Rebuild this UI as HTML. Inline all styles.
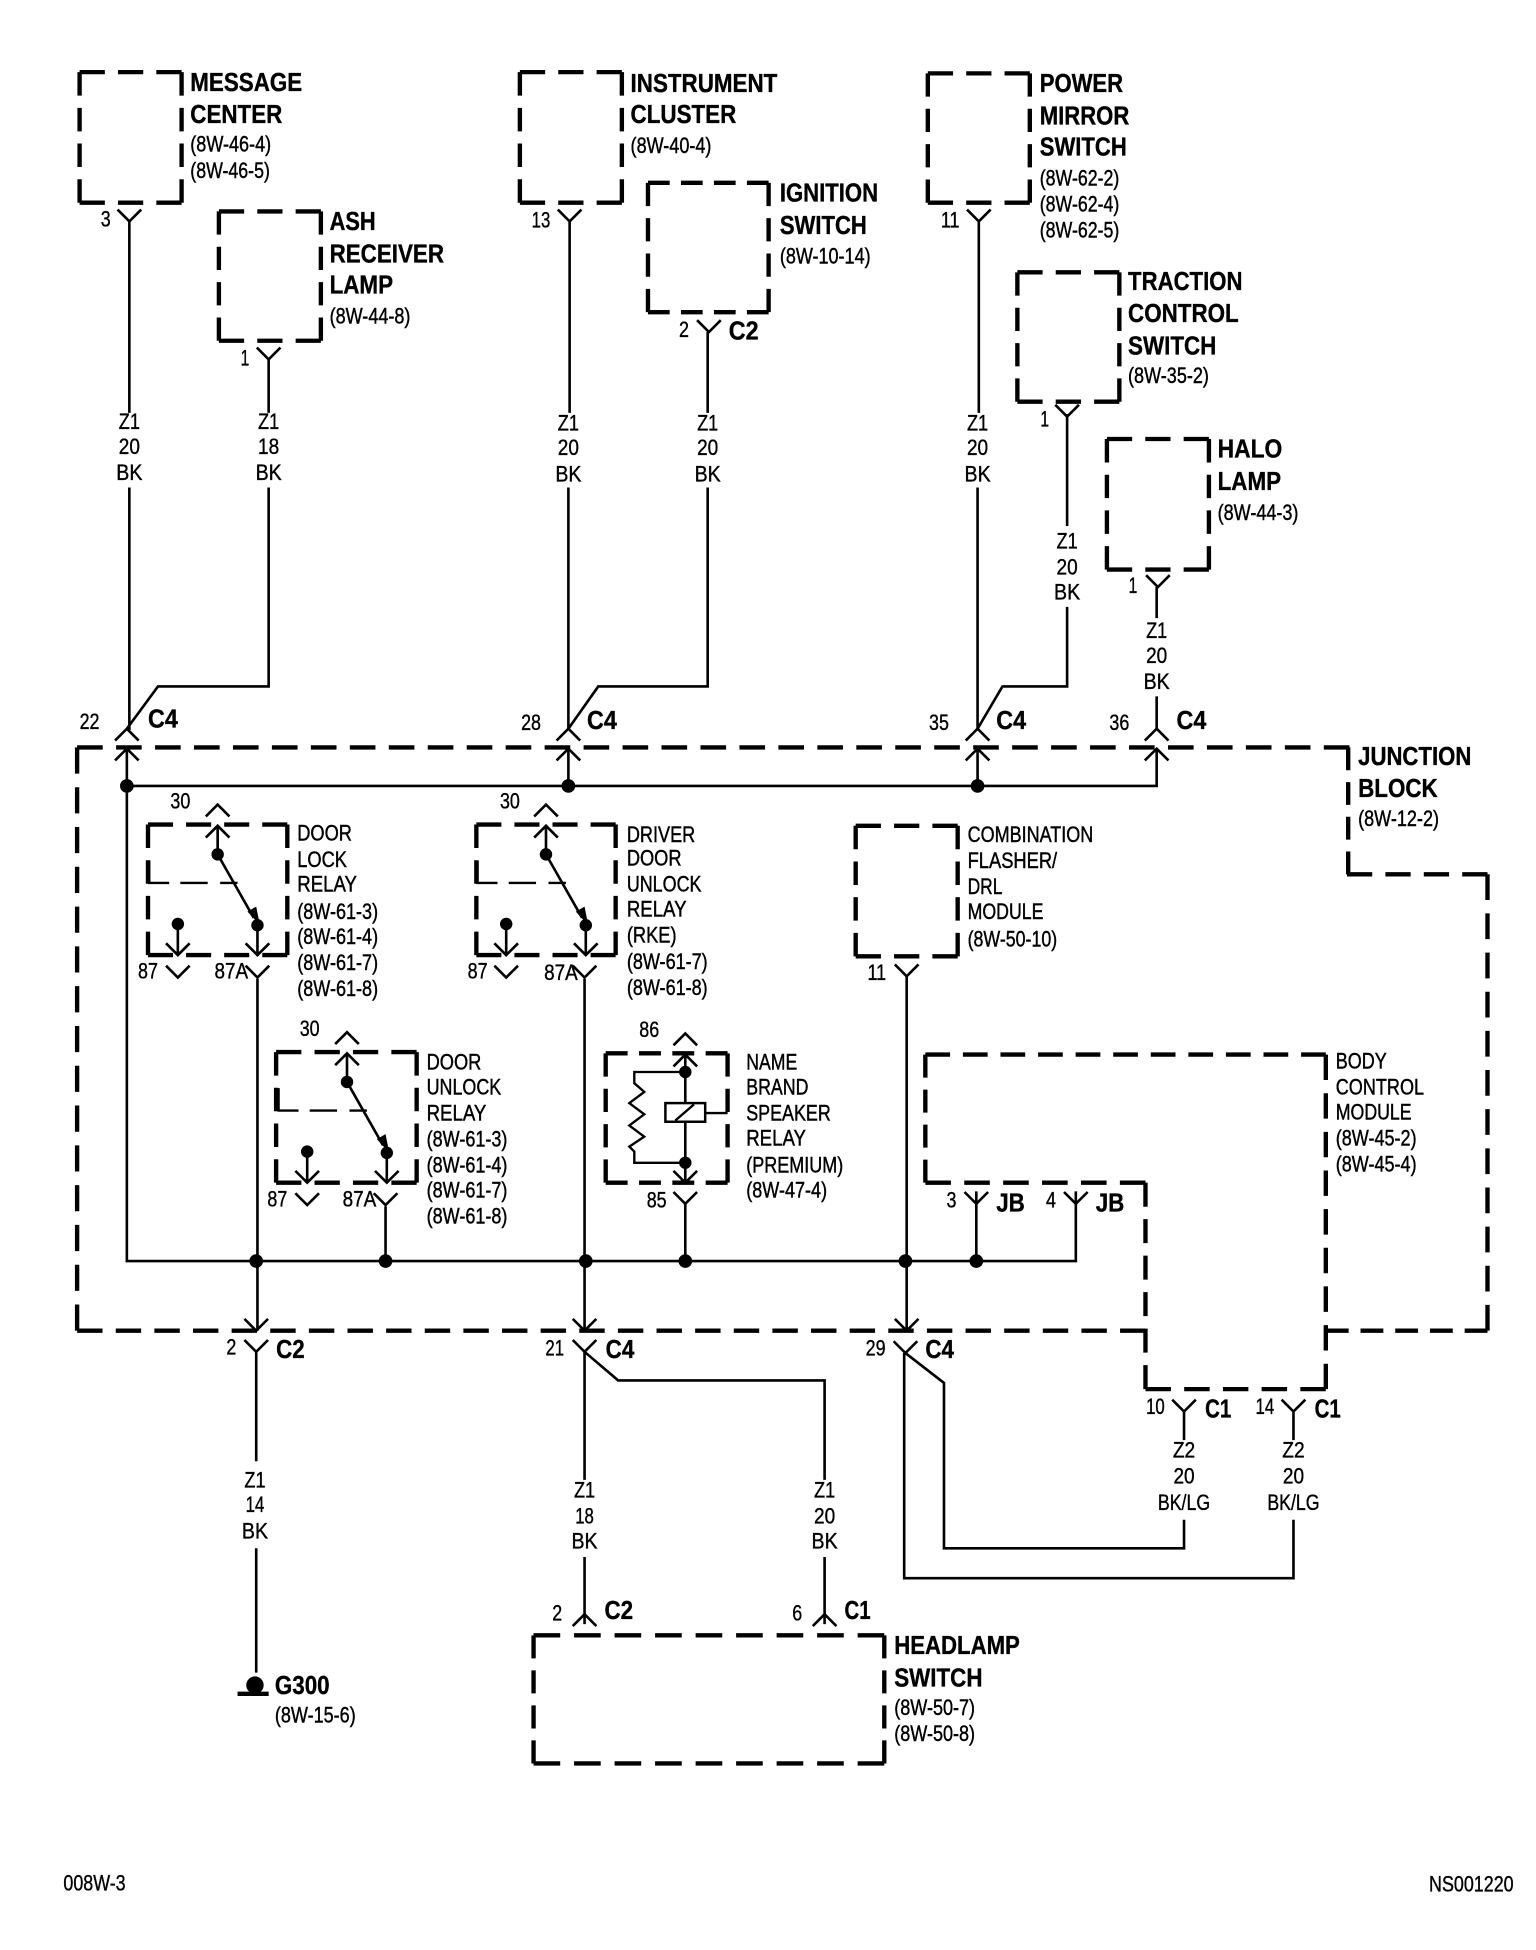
<!DOCTYPE html>
<html><head><meta charset="utf-8"><style>
html,body{margin:0;padding:0;background:#fff}
svg{display:block}
.d{fill:none;stroke:#000;stroke-width:3.5;stroke-dasharray:25 13}
.w{fill:none;stroke:#000;stroke-width:2.1}
.t{fill:none;stroke:#000;stroke-width:1.9}
text{font-family:"Liberation Sans",sans-serif;fill:#000}
.b{font-weight:bold;font-size:21px;stroke:#000;stroke-width:.3;transform:translate(0,-1px)}
.r{font-size:18px;stroke:#000;stroke-width:.35}
.n{font-size:17.5px;text-anchor:middle;stroke:#000;stroke-width:.3}
</style></head><body>
<svg width="1536" height="1950" viewBox="0 0 1235 1568" preserveAspectRatio="none" xmlns="http://www.w3.org/2000/svg">
<defs>
<path id="Y" class="w" d="M-9.500 -9.500L0 0L9.500 -9.500"/>
<path id="A" class="w" d="M-9.500 9.500L0 0L9.500 9.500"/>
</defs>
<rect width="1235" height="1568" fill="#fff"/>

<!-- boxes -->
<g>
<path class="d" pathLength="101" d="M64 58H146"/><path class="d" pathLength="101" d="M64 163H146"/><path class="d" pathLength="139" d="M64 58V163"/><path class="d" pathLength="139" d="M146 58V163"/>
<path class="d" pathLength="101" d="M176 170H258"/><path class="d" pathLength="101" d="M176 274H258"/><path class="d" pathLength="139" d="M176 170V274"/><path class="d" pathLength="139" d="M258 170V274"/>
<path class="d" pathLength="101" d="M418 58H500"/><path class="d" pathLength="101" d="M418 163H500"/><path class="d" pathLength="139" d="M418 58V163"/><path class="d" pathLength="139" d="M500 58V163"/>
<path class="d" pathLength="139" d="M521 147H618"/><path class="d" pathLength="139" d="M521 251H618"/><path class="d" pathLength="139" d="M521 147V251"/><path class="d" pathLength="139" d="M618 147V251"/>
<path class="d" pathLength="101" d="M746 59H828"/><path class="d" pathLength="101" d="M746 163H828"/><path class="d" pathLength="139" d="M746 59V163"/><path class="d" pathLength="139" d="M828 59V163"/>
<path class="d" pathLength="101" d="M818 219H900"/><path class="d" pathLength="101" d="M818 323H900"/><path class="d" pathLength="139" d="M818 219V323"/><path class="d" pathLength="139" d="M900 219V323"/>
<path class="d" pathLength="101" d="M890 353H972"/><path class="d" pathLength="101" d="M890 458H972"/><path class="d" pathLength="139" d="M890 353V458"/><path class="d" pathLength="139" d="M972 353V458"/>
<path class="d" pathLength="329" d="M429 1315H711"/><path class="d" pathLength="329" d="M429 1418H711"/><path class="d" pathLength="139" d="M429 1315V1418"/><path class="d" pathLength="139" d="M711 1315V1418"/>
</g>
<g>
<path class="d" pathLength="139" d="M119 663H231"/><path class="d" pathLength="139" d="M119 768H231"/><path class="d" pathLength="139" d="M119 663V768"/><path class="d" pathLength="139" d="M231 663V768"/>
<path class="d" pathLength="139" d="M383 663H495"/><path class="d" pathLength="139" d="M383 768H495"/><path class="d" pathLength="139" d="M383 663V768"/><path class="d" pathLength="139" d="M495 663V768"/>
<path class="d" pathLength="139" d="M222 846H335"/><path class="d" pathLength="139" d="M222 951H335"/><path class="d" pathLength="139" d="M222 846V951"/><path class="d" pathLength="139" d="M335 846V951"/>
<path class="d" pathLength="101" d="M688 664H770"/><path class="d" pathLength="101" d="M688 769H770"/><path class="d" pathLength="139" d="M688 664V769"/><path class="d" pathLength="139" d="M770 664V769"/>
<path class="d" pathLength="139" d="M487 847H585"/><path class="d" pathLength="139" d="M487 951H585"/><path class="d" pathLength="139" d="M487 847V951"/><path class="d" pathLength="139" d="M585 847V951"/>
</g>
<!-- body control module -->
<path class="d" pathLength="405" d="M744 848H1066"/>
<path class="d" pathLength="139" d="M744 848V951"/>
<path class="d" pathLength="215" d="M744 951H921"/>
<path class="d" pathLength="215" d="M921 951V1117"/>
<path class="d" pathLength="177" d="M921 1117H1066"/>
<path class="d" pathLength="329" d="M1066 848V1117"/>
<!-- junction block -->
<path class="d" pathLength="1241" d="M62 601H1085"/>
<path class="d" pathLength="139" d="M1084 601V703"/>
<path class="d" pathLength="139" d="M1083 703H1196"/>
<path class="d" pathLength="443" d="M1196 703V1070"/>
<path class="d" pathLength="177" d="M1066 1070H1196"/>
<path class="d" pathLength="1051" d="M62 1070H921"/>
<path class="d" pathLength="557" d="M62 601V1070"/>

<!-- top wires -->
<path class="w" d="M104 178V332M104 392V587M216 289V332M216 392V552H127L102 586"/>
<path class="w" d="M458 178V332M457 392V587M569 267V332M569 392V552H481L457 586"/>
<path class="w" d="M787 178V332M786 392V587M858 333V423M858 488V552H806L786 586"/>
<path class="w" d="M930 472V497M930 560V587"/>
<use href="#Y" x="104" y="178"/><use href="#Y" x="216" y="289"/><use href="#Y" x="458" y="178"/><use href="#Y" x="570" y="267"/><use href="#Y" x="787" y="178"/><use href="#Y" x="858" y="335"/><use href="#Y" x="931" y="472"/>
<use href="#A" x="102" y="586"/><use href="#A" x="457" y="586"/><use href="#A" x="786" y="586"/><use href="#A" x="930" y="586"/>
<use href="#A" x="102" y="602"/><use href="#A" x="457" y="602"/><use href="#A" x="786" y="602"/><use href="#A" x="930" y="602"/>
<!-- buses -->
<path class="w" d="M102 602V1014H865V958M102 632H930V602M457 602V632M786 602V632"/>
<g fill="#000"><circle cx="102" cy="632" r="5.500"/><circle cx="457" cy="632" r="5.500"/><circle cx="786" cy="632" r="5.500"/>
<circle cx="206" cy="1014" r="5.500"/><circle cx="310" cy="1014" r="5.500"/><circle cx="471" cy="1014" r="5.500"/><circle cx="551" cy="1014" r="5.500"/><circle cx="728" cy="1014" r="5.500"/><circle cx="785" cy="1014" r="5.500"/></g>
<!-- verticals -->
<path class="w" d="M207 787V1070M470 787V1070M729 785V1070M310 970V1014M551 968V1014M785 958V1014"/>
<use href="#Y" x="207" y="786"/><use href="#Y" x="470" y="786"/><use href="#Y" x="729" y="785"/><use href="#Y" x="310" y="969"/><use href="#Y" x="551" y="968"/><use href="#Y" x="785" y="968"/><use href="#Y" x="865" y="968"/>
<use href="#Y" x="206" y="1070"/><use href="#Y" x="470" y="1070"/><use href="#Y" x="729" y="1070"/>
<use href="#Y" x="206" y="1087"/><use href="#Y" x="470" y="1087"/><use href="#Y" x="728" y="1088"/>
<!-- lower wires -->
<path class="w" d="M206 1087V1175M206 1245V1345"/>
<path class="w" d="M470 1087V1190M470 1252V1306M470 1087L497 1110H663V1190M663 1252V1306"/>
<path class="w" d="M727 1088V1269H1040V1222M728 1088L759 1112V1245H952V1222"/>
<path class="w" d="M952 1135V1158M1040 1135V1158"/>
<use href="#Y" x="952" y="1135"/><use href="#Y" x="1040" y="1135"/>
<use href="#A" x="470" y="1298"/><use href="#A" x="663" y="1298"/>
<circle cx="205" cy="1355" r="7" fill="#000"/><path d="M191 1362H216" stroke="#000" stroke-width="3.500"/>

<!-- door lock relay -->
<g id="rl">
<use href="#A" x="175" y="647"/><use href="#A" x="175" y="664"/>
<path class="w" d="M175 664V687M175 687L204 738"/>
<path d="M209 744L199 733L206 729Z" fill="#000"/>
<circle cx="175" cy="687" r="5" fill="#000"/><circle cx="207" cy="744" r="5" fill="#000"/>
<circle cx="143" cy="743" r="5" fill="#000"/>
<path class="w" d="M143 743V768M207 744V768"/>
<use href="#Y" x="143" y="768"/><use href="#Y" x="207" y="768"/><use href="#Y" x="143" y="786"/>
<path class="t" d="M120 692V710H136M145 710H167M177 710H191"/>
</g>
<use href="#rl" x="264" y="0"/>
<use href="#rl" x="104" y="183"/>

<!-- name brand relay -->
<use href="#A" x="551" y="831"/><use href="#A" x="551" y="848"/>
<path class="w" d="M551 848V887M551 902V951"/>
<circle cx="551" cy="862" r="5" fill="#000"/><circle cx="551" cy="935" r="5" fill="#000"/>
<path class="t" d="M551 862H510V871L518 878L506 887L518 896L506 905L518 914L506 922L510 926V935H551"/>
<rect x="535" y="887" width="32" height="15" fill="none" stroke="#000" stroke-width="2"/>
<path class="t" d="M543 901L558 888M567 895H585"/>
<use href="#Y" x="551" y="951"/>

<!-- bold labels -->
<text class="b" x="153" y="74" textLength="90" lengthAdjust="spacingAndGlyphs">MESSAGE</text>
<text class="b" x="153" y="100" textLength="74" lengthAdjust="spacingAndGlyphs">CENTER</text>
<text class="b" x="265" y="186" textLength="37" lengthAdjust="spacingAndGlyphs">ASH</text>
<text class="b" x="265" y="212" textLength="92" lengthAdjust="spacingAndGlyphs">RECEIVER</text>
<text class="b" x="265" y="237" textLength="51" lengthAdjust="spacingAndGlyphs">LAMP</text>
<text class="b" x="507" y="75" textLength="118" lengthAdjust="spacingAndGlyphs">INSTRUMENT</text>
<text class="b" x="507" y="100" textLength="85" lengthAdjust="spacingAndGlyphs">CLUSTER</text>
<text class="b" x="627" y="163" textLength="79" lengthAdjust="spacingAndGlyphs">IGNITION</text>
<text class="b" x="627" y="189" textLength="70" lengthAdjust="spacingAndGlyphs">SWITCH</text>
<text class="b" x="836" y="75" textLength="67" lengthAdjust="spacingAndGlyphs">POWER</text>
<text class="b" x="836" y="101" textLength="72" lengthAdjust="spacingAndGlyphs">MIRROR</text>
<text class="b" x="836" y="126" textLength="70" lengthAdjust="spacingAndGlyphs">SWITCH</text>
<text class="b" x="907" y="234" textLength="92" lengthAdjust="spacingAndGlyphs">TRACTION</text>
<text class="b" x="907" y="260" textLength="89" lengthAdjust="spacingAndGlyphs">CONTROL</text>
<text class="b" x="907" y="286" textLength="71" lengthAdjust="spacingAndGlyphs">SWITCH</text>
<text class="b" x="979" y="369" textLength="52" lengthAdjust="spacingAndGlyphs">HALO</text>
<text class="b" x="979" y="395" textLength="51" lengthAdjust="spacingAndGlyphs">LAMP</text>
<text class="b" x="1092" y="616" textLength="91" lengthAdjust="spacingAndGlyphs">JUNCTION</text>
<text class="b" x="1092" y="642" textLength="64" lengthAdjust="spacingAndGlyphs">BLOCK</text>
<text class="b" x="719" y="1331" textLength="101" lengthAdjust="spacingAndGlyphs">HEADLAMP</text>
<text class="b" x="719" y="1357" textLength="71" lengthAdjust="spacingAndGlyphs">SWITCH</text>
<text class="b" x="221" y="1363" textLength="44" lengthAdjust="spacingAndGlyphs">G300</text>
<text class="b" x="119" y="586" textLength="24" lengthAdjust="spacingAndGlyphs">C4</text>
<text class="b" x="472" y="587" textLength="24" lengthAdjust="spacingAndGlyphs">C4</text>
<text class="b" x="801" y="587" textLength="24" lengthAdjust="spacingAndGlyphs">C4</text>
<text class="b" x="946" y="587" textLength="24" lengthAdjust="spacingAndGlyphs">C4</text>
<text class="b" x="586" y="274" textLength="24" lengthAdjust="spacingAndGlyphs">C2</text>
<text class="b" x="222" y="1093" textLength="23" lengthAdjust="spacingAndGlyphs">C2</text>
<text class="b" x="487" y="1093" textLength="23" lengthAdjust="spacingAndGlyphs">C4</text>
<text class="b" x="744" y="1093" textLength="23" lengthAdjust="spacingAndGlyphs">C4</text>
<text class="b" x="801" y="975" textLength="23" lengthAdjust="spacingAndGlyphs">JB</text>
<text class="b" x="881" y="975" textLength="23" lengthAdjust="spacingAndGlyphs">JB</text>
<text class="b" x="969" y="1141" textLength="21" lengthAdjust="spacingAndGlyphs">C1</text>
<text class="b" x="1057" y="1141" textLength="21" lengthAdjust="spacingAndGlyphs">C1</text>
<text class="b" x="486" y="1303" textLength="23" lengthAdjust="spacingAndGlyphs">C2</text>
<text class="b" x="679" y="1303" textLength="21" lengthAdjust="spacingAndGlyphs">C1</text>

<!-- regular labels -->
<text class="r" x="153" y="122" textLength="65" lengthAdjust="spacingAndGlyphs">(8W-46-4)</text>
<text class="r" x="153" y="143" textLength="64" lengthAdjust="spacingAndGlyphs">(8W-46-5)</text>
<text class="r" x="265" y="260" textLength="65" lengthAdjust="spacingAndGlyphs">(8W-44-8)</text>
<text class="r" x="507" y="123" textLength="65" lengthAdjust="spacingAndGlyphs">(8W-40-4)</text>
<text class="r" x="627" y="212" textLength="73" lengthAdjust="spacingAndGlyphs">(8W-10-14)</text>
<text class="r" x="836" y="149" textLength="64" lengthAdjust="spacingAndGlyphs">(8W-62-2)</text>
<text class="r" x="836" y="170" textLength="64" lengthAdjust="spacingAndGlyphs">(8W-62-4)</text>
<text class="r" x="836" y="191" textLength="64" lengthAdjust="spacingAndGlyphs">(8W-62-5)</text>
<text class="r" x="907" y="308" textLength="65" lengthAdjust="spacingAndGlyphs">(8W-35-2)</text>
<text class="r" x="979" y="418" textLength="65" lengthAdjust="spacingAndGlyphs">(8W-44-3)</text>
<text class="r" x="1092" y="664" textLength="65" lengthAdjust="spacingAndGlyphs">(8W-12-2)</text>
<text class="r" x="719" y="1379" textLength="65" lengthAdjust="spacingAndGlyphs">(8W-50-7)</text>
<text class="r" x="719" y="1400" textLength="65" lengthAdjust="spacingAndGlyphs">(8W-50-8)</text>
<text class="r" x="221" y="1385" textLength="65" lengthAdjust="spacingAndGlyphs">(8W-15-6)</text>

<text class="r" x="239" y="676" textLength="44" lengthAdjust="spacingAndGlyphs">DOOR</text>
<text class="r" x="239" y="697" textLength="40" lengthAdjust="spacingAndGlyphs">LOCK</text>
<text class="r" x="239" y="717" textLength="48" lengthAdjust="spacingAndGlyphs">RELAY</text>
<text class="r" x="239" y="739" textLength="65" lengthAdjust="spacingAndGlyphs">(8W-61-3)</text>
<text class="r" x="239" y="759" textLength="65" lengthAdjust="spacingAndGlyphs">(8W-61-4)</text>
<text class="r" x="239" y="780" textLength="65" lengthAdjust="spacingAndGlyphs">(8W-61-7)</text>
<text class="r" x="239" y="801" textLength="65" lengthAdjust="spacingAndGlyphs">(8W-61-8)</text>

<text class="r" x="504" y="677" textLength="55" lengthAdjust="spacingAndGlyphs">DRIVER</text>
<text class="r" x="504" y="696" textLength="44" lengthAdjust="spacingAndGlyphs">DOOR</text>
<text class="r" x="504" y="717" textLength="60" lengthAdjust="spacingAndGlyphs">UNLOCK</text>
<text class="r" x="504" y="737" textLength="48" lengthAdjust="spacingAndGlyphs">RELAY</text>
<text class="r" x="504" y="758" textLength="40" lengthAdjust="spacingAndGlyphs">(RKE)</text>
<text class="r" x="504" y="779" textLength="65" lengthAdjust="spacingAndGlyphs">(8W-61-7)</text>
<text class="r" x="504" y="800" textLength="65" lengthAdjust="spacingAndGlyphs">(8W-61-8)</text>

<text class="r" x="778" y="677" textLength="101" lengthAdjust="spacingAndGlyphs">COMBINATION</text>
<text class="r" x="778" y="698" textLength="72" lengthAdjust="spacingAndGlyphs">FLASHER/</text>
<text class="r" x="778" y="719" textLength="28" lengthAdjust="spacingAndGlyphs">DRL</text>
<text class="r" x="778" y="739" textLength="61" lengthAdjust="spacingAndGlyphs">MODULE</text>
<text class="r" x="778" y="761" textLength="72" lengthAdjust="spacingAndGlyphs">(8W-50-10)</text>

<text class="r" x="343" y="860" textLength="44" lengthAdjust="spacingAndGlyphs">DOOR</text>
<text class="r" x="343" y="880" textLength="60" lengthAdjust="spacingAndGlyphs">UNLOCK</text>
<text class="r" x="343" y="901" textLength="48" lengthAdjust="spacingAndGlyphs">RELAY</text>
<text class="r" x="343" y="922" textLength="65" lengthAdjust="spacingAndGlyphs">(8W-61-3)</text>
<text class="r" x="343" y="943" textLength="65" lengthAdjust="spacingAndGlyphs">(8W-61-4)</text>
<text class="r" x="343" y="963" textLength="65" lengthAdjust="spacingAndGlyphs">(8W-61-7)</text>
<text class="r" x="343" y="984" textLength="65" lengthAdjust="spacingAndGlyphs">(8W-61-8)</text>

<text class="r" x="600" y="860" textLength="41" lengthAdjust="spacingAndGlyphs">NAME</text>
<text class="r" x="600" y="880" textLength="50" lengthAdjust="spacingAndGlyphs">BRAND</text>
<text class="r" x="600" y="901" textLength="68" lengthAdjust="spacingAndGlyphs">SPEAKER</text>
<text class="r" x="600" y="921" textLength="48" lengthAdjust="spacingAndGlyphs">RELAY</text>
<text class="r" x="600" y="943" textLength="78" lengthAdjust="spacingAndGlyphs">(PREMIUM)</text>
<text class="r" x="600" y="963" textLength="65" lengthAdjust="spacingAndGlyphs">(8W-47-4)</text>

<text class="r" x="1074" y="859" textLength="41" lengthAdjust="spacingAndGlyphs">BODY</text>
<text class="r" x="1074" y="880" textLength="71" lengthAdjust="spacingAndGlyphs">CONTROL</text>
<text class="r" x="1074" y="900" textLength="61" lengthAdjust="spacingAndGlyphs">MODULE</text>
<text class="r" x="1074" y="921" textLength="65" lengthAdjust="spacingAndGlyphs">(8W-45-2)</text>
<text class="r" x="1074" y="942" textLength="65" lengthAdjust="spacingAndGlyphs">(8W-45-4)</text>

<!-- wire labels -->
<g class="n">
<text x="104" y="345" textLength="17" lengthAdjust="spacingAndGlyphs">Z1</text><text x="104" y="365" textLength="17" lengthAdjust="spacingAndGlyphs">20</text><text x="104" y="386" textLength="21" lengthAdjust="spacingAndGlyphs">BK</text>
<text x="216" y="345" textLength="17" lengthAdjust="spacingAndGlyphs">Z1</text><text x="216" y="365" textLength="17" lengthAdjust="spacingAndGlyphs">18</text><text x="216" y="386" textLength="21" lengthAdjust="spacingAndGlyphs">BK</text>
<text x="457" y="346" textLength="17" lengthAdjust="spacingAndGlyphs">Z1</text><text x="457" y="366" textLength="17" lengthAdjust="spacingAndGlyphs">20</text><text x="457" y="387" textLength="21" lengthAdjust="spacingAndGlyphs">BK</text>
<text x="569" y="346" textLength="17" lengthAdjust="spacingAndGlyphs">Z1</text><text x="569" y="366" textLength="17" lengthAdjust="spacingAndGlyphs">20</text><text x="569" y="387" textLength="21" lengthAdjust="spacingAndGlyphs">BK</text>
<text x="786" y="346" textLength="17" lengthAdjust="spacingAndGlyphs">Z1</text><text x="786" y="366" textLength="17" lengthAdjust="spacingAndGlyphs">20</text><text x="786" y="387" textLength="21" lengthAdjust="spacingAndGlyphs">BK</text>
<text x="858" y="441" textLength="17" lengthAdjust="spacingAndGlyphs">Z1</text><text x="858" y="462" textLength="17" lengthAdjust="spacingAndGlyphs">20</text><text x="858" y="482" textLength="21" lengthAdjust="spacingAndGlyphs">BK</text>
<text x="930" y="513" textLength="17" lengthAdjust="spacingAndGlyphs">Z1</text><text x="930" y="533" textLength="17" lengthAdjust="spacingAndGlyphs">20</text><text x="930" y="554" textLength="21" lengthAdjust="spacingAndGlyphs">BK</text>
<text x="205" y="1196" textLength="17" lengthAdjust="spacingAndGlyphs">Z1</text><text x="205" y="1216" textLength="15" lengthAdjust="spacingAndGlyphs">14</text><text x="205" y="1237" textLength="21" lengthAdjust="spacingAndGlyphs">BK</text>
<text x="470" y="1204" textLength="17" lengthAdjust="spacingAndGlyphs">Z1</text><text x="470" y="1225" textLength="15" lengthAdjust="spacingAndGlyphs">18</text><text x="470" y="1245" textLength="21" lengthAdjust="spacingAndGlyphs">BK</text>
<text x="663" y="1204" textLength="17" lengthAdjust="spacingAndGlyphs">Z1</text><text x="663" y="1225" textLength="17" lengthAdjust="spacingAndGlyphs">20</text><text x="663" y="1245" textLength="21" lengthAdjust="spacingAndGlyphs">BK</text>
<text x="952" y="1172" textLength="18" lengthAdjust="spacingAndGlyphs">Z2</text><text x="952" y="1193" textLength="17" lengthAdjust="spacingAndGlyphs">20</text><text x="952" y="1214" textLength="42" lengthAdjust="spacingAndGlyphs">BK/LG</text>
<text x="1040" y="1172" textLength="18" lengthAdjust="spacingAndGlyphs">Z2</text><text x="1040" y="1193" textLength="17" lengthAdjust="spacingAndGlyphs">20</text><text x="1040" y="1214" textLength="42" lengthAdjust="spacingAndGlyphs">BK/LG</text>
<!-- pin numbers -->
<text x="85" y="182" textLength="8" lengthAdjust="spacingAndGlyphs">3</text><text x="197" y="294" textLength="7" lengthAdjust="spacingAndGlyphs">1</text><text x="435" y="183" textLength="15" lengthAdjust="spacingAndGlyphs">13</text><text x="550" y="271" textLength="8" lengthAdjust="spacingAndGlyphs">2</text><text x="764" y="183" textLength="15" lengthAdjust="spacingAndGlyphs">11</text><text x="840" y="343" textLength="7" lengthAdjust="spacingAndGlyphs">1</text><text x="911" y="477" textLength="7" lengthAdjust="spacingAndGlyphs">1</text>
<text x="72" y="586" textLength="16" lengthAdjust="spacingAndGlyphs">22</text><text x="427" y="587" textLength="16" lengthAdjust="spacingAndGlyphs">28</text><text x="755" y="587" textLength="16" lengthAdjust="spacingAndGlyphs">35</text><text x="900" y="587" textLength="16" lengthAdjust="spacingAndGlyphs">36</text>
<text x="145" y="650" textLength="16" lengthAdjust="spacingAndGlyphs">30</text><text x="410" y="650" textLength="16" lengthAdjust="spacingAndGlyphs">30</text><text x="249" y="833" textLength="16" lengthAdjust="spacingAndGlyphs">30</text><text x="522" y="834" textLength="16" lengthAdjust="spacingAndGlyphs">86</text>
<text x="119" y="787" textLength="16" lengthAdjust="spacingAndGlyphs">87</text><text x="186" y="787" textLength="27" lengthAdjust="spacingAndGlyphs">87A</text><text x="384" y="787" textLength="16" lengthAdjust="spacingAndGlyphs">87</text><text x="451" y="788" textLength="27" lengthAdjust="spacingAndGlyphs">87A</text><text x="223" y="970" textLength="16" lengthAdjust="spacingAndGlyphs">87</text><text x="289" y="970" textLength="27" lengthAdjust="spacingAndGlyphs">87A</text>
<text x="705" y="788" textLength="15" lengthAdjust="spacingAndGlyphs">11</text><text x="528" y="971" textLength="16" lengthAdjust="spacingAndGlyphs">85</text><text x="765" y="971" textLength="8" lengthAdjust="spacingAndGlyphs">3</text><text x="845" y="971" textLength="8" lengthAdjust="spacingAndGlyphs">4</text>
<text x="186" y="1089" textLength="8" lengthAdjust="spacingAndGlyphs">2</text><text x="446" y="1090" textLength="15" lengthAdjust="spacingAndGlyphs">21</text><text x="704" y="1090" textLength="16" lengthAdjust="spacingAndGlyphs">29</text><text x="929" y="1137" textLength="15" lengthAdjust="spacingAndGlyphs">10</text><text x="1017" y="1137" textLength="15" lengthAdjust="spacingAndGlyphs">14</text>
<text x="448" y="1303" textLength="8" lengthAdjust="spacingAndGlyphs">2</text><text x="641" y="1303" textLength="8" lengthAdjust="spacingAndGlyphs">6</text>
<text x="76" y="1520" textLength="50" lengthAdjust="spacingAndGlyphs">008W-3</text><text x="1183" y="1521" textLength="68" lengthAdjust="spacingAndGlyphs">NS001220</text>
</g>
</svg>
</body></html>
